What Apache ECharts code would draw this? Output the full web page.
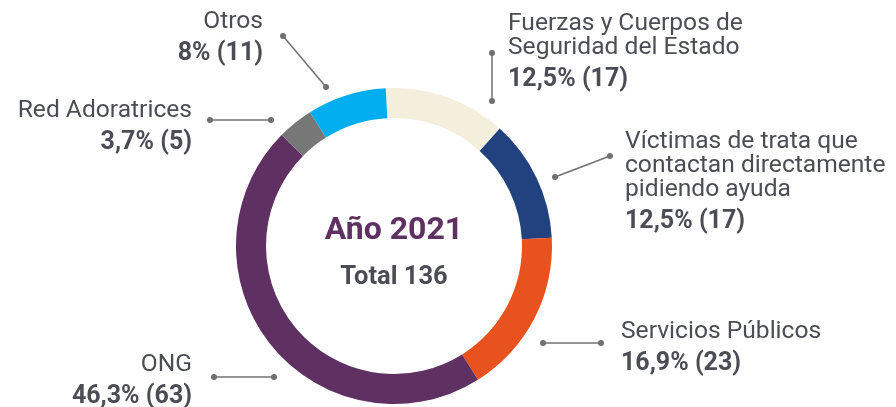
<!DOCTYPE html>
<html>
<head>
<meta charset="utf-8">
<script src="https://cdn.jsdelivr.net/npm/echarts@6/dist/echarts.min.js"></script>
<style>
  html, body { margin: 0; padding: 0; background: #fff; }
  #chart { width: 896px; height: 407px; }
</style>
</head>
<body>
<div id="chart"></div>
<script>
// datos del gráfico
const categories = [
  'Fuerzas y Cuerpos de\nSeguridad del Estado',
  'Víctimas de trata que\ncontactan directamente\npidiendo ayuda',
  'Servicios Públicos',
  'ONG',
  'Red Adoratrices',
  'Otros'
]
const values = [17, 17, 23, 63, 5, 11]
const pctLabels = ['12,5%', '12,5%', '16,9%', '46,3%', '3,7%', '8%']
const title = 'Año 2021'
const totalLabel = 'Total 136'

const colors = ['#f3efdc', '#21427f', '#e8521e', '#5f3163', '#777777', '#00aeef']
const textColor = '#4a4e54'
const lineColor = '#707070'

// posición de las etiquetas (x, y superior, alineación)
const labelPos = [
  { x: 508, y: 12, align: 'left' },
  { x: 625, y: 130, align: 'left' },
  { x: 621, y: 320, align: 'left' },
  { x: 192, y: 353, align: 'right' },
  { x: 192, y: 99, align: 'right' },
  { x: 263, y: 10, align: 'right' }
]
// líneas guía [x1, y1, x2, y2]
const leaders = [
  [492, 53, 492, 101],
  [555, 177, 610, 156],
  [543, 343, 601, 343],
  [214, 377, 274, 377],
  [210, 120, 271, 120],
  [283, 36, 326, 87]
]

const chart = echarts.init(document.getElementById('chart'))

const leaderGraphics = []
leaders.forEach(([x1, y1, x2, y2]) => {
  leaderGraphics.push({
    type: 'line', silent: true,
    shape: { x1, y1, x2, y2 },
    style: { stroke: lineColor, lineWidth: 1.5 }
  })
  leaderGraphics.push({ type: 'circle', silent: true, shape: { cx: x1, cy: y1, r: 3 }, style: { fill: lineColor } })
  leaderGraphics.push({ type: 'circle', silent: true, shape: { cx: x2, cy: y2, r: 3 }, style: { fill: lineColor } })
})

chart.setOption({
  backgroundColor: '#ffffff',
  animation: false,
  color: colors,
  textStyle: { fontFamily: 'Roboto' },
  graphic: [
    ...leaderGraphics,
    {
      type: 'text', silent: true, x: 394, y: 231,
      style: { text: title, fill: '#5f3163', font: 'bold 32px Roboto', align: 'center', verticalAlign: 'middle' }
    },
    {
      type: 'text', silent: true, x: 394, y: 278,
      style: { text: totalLabel, fill: textColor, font: 'bold 25.5px Roboto', align: 'center', verticalAlign: 'middle' }
    }
  ],
  series: [
    {
      type: 'pie',
      center: [394, 246],
      radius: [128, 158],
      startAngle: 93,
      clockwise: true,
      avoidLabelOverlap: false,
      silent: true,
      itemStyle: { borderWidth: 0 },
      emphasis: { disabled: true },
      data: categories.map((name, i) => ({ name, value: values[i] })),
      label: {
        show: true,
        position: 'outside',
        formatter: (p) => {
          const lines = p.name.split('\n').map(l => '{n|' + l + '}')
          return lines.join('\n') + '\n{v|' + pctLabels[p.dataIndex] + ' (' + p.value + ')}'
        },
        rich: {
          n: { fontFamily: 'Roboto', fontSize: 24.6, lineHeight: 24, color: textColor },
          v: { fontFamily: 'Roboto', fontSize: 25, fontWeight: 'bold', lineHeight: 39, color: textColor }
        }
      },
      labelLine: { show: false },
      labelLayout: (params) => {
        const pos = labelPos[params.dataIndex]
        return { x: pos.x, y: pos.y, align: pos.align, verticalAlign: 'top' }
      }
    }
  ]
})
</script>
</body>
</html>
